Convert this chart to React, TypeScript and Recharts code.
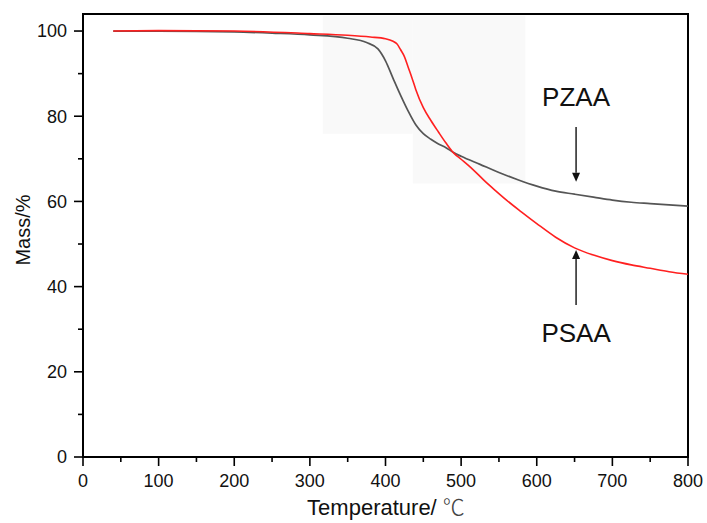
import React from "react";
import { LineChart, Line, XAxis, YAxis, ReferenceArea, ReferenceLine } from "recharts";

// TGA curves
const pzaaTemp = [40, 100, 200, 250, 300, 350, 375, 390, 400, 410, 420, 430, 440, 450, 460, 470, 480, 490, 500, 525, 550, 575, 600, 625, 650, 675, 700, 725, 750, 775, 800];
const pzaaMass = [100, 100, 99.8, 99.5, 99.1, 98.3, 97.3, 95.8, 93.0, 88.9, 84.9, 81.2, 78.0, 75.9, 74.6, 73.5, 72.6, 71.5, 70.6, 68.7, 66.8, 65.1, 63.6, 62.4, 61.7, 61.0, 60.3, 59.8, 59.5, 59.2, 58.9];

const psaaTemp = [40, 100, 200, 300, 350, 380, 400, 410, 415, 420, 425, 430, 435, 440, 450, 460, 470, 480, 490, 500, 515, 530, 545, 560, 580, 600, 625, 650, 675, 700, 725, 750, 775, 800];
const psaaMass = [100, 100.1, 100, 99.4, 99.0, 98.6, 98.2, 97.6, 97.0, 95.6, 94.0, 91.5, 89.0, 86.3, 82.0, 79.0, 76.3, 73.7, 71.4, 69.9, 67.6, 65.0, 62.6, 60.3, 57.5, 54.8, 51.6, 49.1, 47.4, 46.1, 45.1, 44.3, 43.5, 42.9];

const xTicks = [0, 50, 100, 150, 200, 250, 300, 350, 400, 450, 500, 550, 600, 650, 700, 750, 800];
const yTicks = [0, 10, 20, 30, 40, 50, 60, 70, 80, 90, 100];

// faint grey patches in the scanned figure
const shadeX1 = [317, 436];
const shadeX2 = [436, 585];
const shadeY1 = [75.9, 64.2];
const shadeY2 = [103.6, 103.6];

// arrow annotations
const annoNames = ["PZAA", "PSAA"];
const annoTemp = [652, 652];
const annoFrom = [77.5, 35.7];
const annoTo = [64.6, 48.6];

const pzaaData = pzaaTemp.map((t, i) => ({ t, m: pzaaMass[i] }));
const psaaData = psaaTemp.map((t, i) => ({ t, m: psaaMass[i] }));

const FONT = "'Liberation Sans', Arial, sans-serif";

const XTick = (props: any) => {
  const { x, y, payload } = props;
  const major = payload.value % 100 === 0;
  return (
    <g>
      <line x1={x} x2={x} y1={y} y2={y + (major ? 9 : 5)} stroke="#000" strokeWidth={1.6} />
      {major && (
        <text x={x} y={y + 30} textAnchor="middle" fontFamily={FONT} fontSize={18} fill="#111">
          {payload.value}
        </text>
      )}
    </g>
  );
};

const YTick = (props: any) => {
  const { x, y, payload } = props;
  const major = payload.value % 20 === 0;
  return (
    <g>
      <line x1={x - (major ? 9 : 5)} x2={x} y1={y} y2={y} stroke="#000" strokeWidth={1.6} />
      {major && (
        <text x={x - 16} y={y} dy="0.35em" textAnchor="end" fontFamily={FONT} fontSize={18} fill="#111">
          {payload.value}
        </text>
      )}
    </g>
  );
};

const makeArrow = (name: string, up: boolean) => (p: any) => {
  const { x1, y1, x2, y2 } = p;
  const head = 9;
  const dir = y2 > y1 ? 1 : -1;
  const labelY = up ? y1 + 37 : y1 - 21;
  return (
    <g>
      <line x1={x1} y1={y1} x2={x2} y2={y2 - dir * head} stroke="#111" strokeWidth={1.4} />
      <polygon points={`${x2},${y2} ${x2 - 4},${y2 - dir * head} ${x2 + 4},${y2 - dir * head}`} fill="#111" />
      <text x={x1} y={labelY} textAnchor="middle" fontFamily={FONT} fontSize={26} fill="#111">
        {name}
      </text>
    </g>
  );
};

export default function App() {
  return (
    <div style={{ position: "absolute", left: 0, top: 0, background: "#fff" }}>
      <LineChart width={707} height={523} margin={{ top: 14, right: 19, left: 0, bottom: 0 }}>
        <XAxis
          dataKey="t"
          type="number"
          domain={[0, 800]}
          ticks={xTicks}
          interval={0}
          tickSize={0}
          tickMargin={0}
          tick={<XTick />}
          height={66}
          axisLine={{ stroke: "#000", strokeWidth: 2 }}
          allowDataOverflow
          label={() => (
            <text x={386} y={515} textAnchor="middle" fontFamily={FONT} fontSize={22} fill="#111">
              Temperature/{" "}
              <tspan fontFamily="'Noto Sans CJK SC', sans-serif" fontWeight={300} fill="#444">
                ℃
              </tspan>
            </text>
          )}
        />
        <YAxis
          type="number"
          domain={[0, 104]}
          ticks={yTicks}
          interval={0}
          tickSize={0}
          tickMargin={0}
          tick={<YTick />}
          width={83}
          axisLine={{ stroke: "#000", strokeWidth: 2 }}
          allowDataOverflow
          label={() => (
            <text
              x={30}
              y={230}
              textAnchor="middle"
              fontFamily={FONT}
              fontSize={20}
              fill="#111"
              transform="rotate(-90 30 230)"
            >
              Mass/%
            </text>
          )}
        />
        {shadeX1.map((x1, i) => (
          <ReferenceArea
            key={`s${i}`}
            x1={x1}
            x2={shadeX2[i]}
            y1={shadeY1[i]}
            y2={shadeY2[i]}
            fill="#f9f9f9"
            fillOpacity={1}
            stroke="none"
          />
        ))}
        <Line
          data={pzaaData}
          dataKey="m"
          type="monotone"
          stroke="#555555"
          strokeWidth={1.7}
          dot={false}
          isAnimationActive={false}
        />
        <Line
          data={psaaData}
          dataKey="m"
          type="monotone"
          stroke="#ff2020"
          strokeWidth={1.6}
          dot={false}
          isAnimationActive={false}
        />
        {annoNames.map((n, i) => (
          <ReferenceLine
            key={n}
            segment={[
              { x: annoTemp[i], y: annoFrom[i] },
              { x: annoTemp[i], y: annoTo[i] },
            ]}
            ifOverflow="visible"
            shape={makeArrow(n, annoTo[i] > annoFrom[i])}
          />
        ))}
        <ReferenceArea
          x1={0}
          x2={800}
          y1={0}
          y2={104}
          fill="none"
          stroke="#000"
          strokeWidth={2}
          ifOverflow="visible"
        />
      </LineChart>
    </div>
  );
}
